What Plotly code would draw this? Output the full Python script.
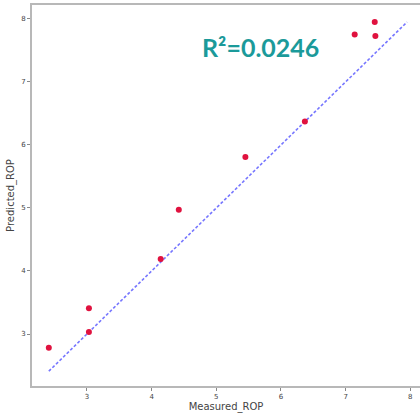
import plotly.graph_objects as go

measured = [2.41, 3.03, 3.03, 4.14, 4.42, 5.45, 6.37, 7.14, 7.45, 7.46]
predicted = [2.78, 3.41, 3.03, 4.19, 4.97, 5.81, 6.37, 7.75, 7.95, 7.73]
ticks = [3, 4, 5, 6, 7, 8]
r2_text = "R²=0.0246"

lo = min(measured + predicted)
hi = max(measured + predicted)

fig = go.Figure()
fig.add_trace(go.Scatter(
    x=[lo, hi], y=[lo, hi], mode="lines",
    line=dict(color="rgba(60,60,255,0.7)", width=1.6, dash="3px,2px"),
    showlegend=False, hoverinfo="skip"))
fig.add_trace(go.Scatter(
    x=measured, y=predicted, mode="markers",
    marker=dict(color="#e0123f", size=6),
    showlegend=False))

fig.add_annotation(
    x=5.68, y=7.55, xref="x", yref="y", text="<b>" + r2_text + "</b>",
    showarrow=False, font=dict(size=25, color="#1b9a9a", family="Lato"),
    xanchor="center", yanchor="middle")

axis_common = dict(
    showgrid=False, zeroline=False, showline=True, linecolor="#b8b8b8",
    linewidth=2, ticks="outside", ticklen=3, tickcolor="#888",
    tickvals=ticks, tickfont=dict(size=7, color="#444", family="DejaVu Sans"),
    automargin=False)

fig.update_xaxes(range=[2.15, 8.15], mirror=True, title=dict(text="Measured_ROP", standoff=3,
                 font=dict(size=10, color="#444", family="DejaVu Sans")), **axis_common)
fig.update_yaxes(range=[2.175, 8.22], mirror=False, title=dict(text="Predicted_ROP", standoff=5,
                 font=dict(size=10, color="#444", family="DejaVu Sans")), **axis_common)

fig.update_layout(
    width=420, height=413,
    margin=dict(l=32, r=0, t=5, b=27),
    paper_bgcolor="white", plot_bgcolor="white")

fig.write_html("out.html", config={"displayModeBar": False},
               post_script="document.body.style.margin='0px';document.body.style.overflow='hidden';")
